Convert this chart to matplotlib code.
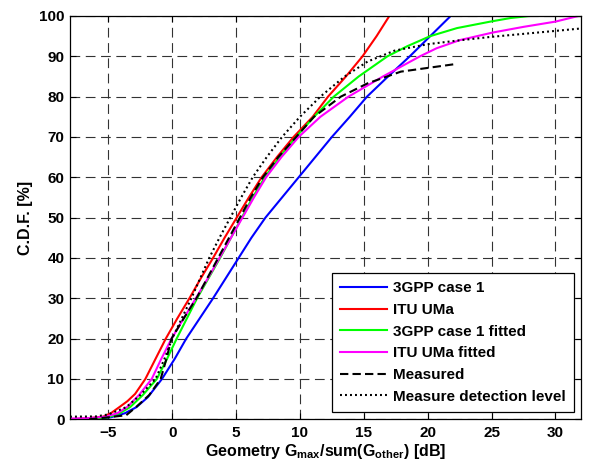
import matplotlib
matplotlib.use("Agg")
import matplotlib.pyplot as plt

plt.rcParams["font.family"] = ["Liberation Sans", "DejaVu Sans"]
plt.rcParams["font.weight"] = "bold"
plt.rcParams["mathtext.fontset"] = "custom"
plt.rcParams["mathtext.rm"] = "Liberation Sans:bold"
plt.rcParams["mathtext.bf"] = "Liberation Sans:bold"
plt.rcParams["mathtext.default"] = "bf"
plt.rcParams["lines.scale_dashes"] = False

# ---- CDF curves: geometry factor [dB] vs cumulative probability [%] ----
gpp_x = [-6.3, -4.8, -3.7, -2.8, -1.9, -0.8, 0.2, 1.1, 2.15, 3.2, 4.2, 5.2,
         6.2, 7.3, 8.6, 9.9, 11.2, 12.5, 13.9, 15.25, 16.9, 18.6, 20.2, 21.8]
gpp_y = [0, 0.5, 1.5, 3, 5.5, 10, 15, 20, 25, 30, 35, 40,
         45, 50, 55, 60, 65, 70, 75, 80, 85, 90, 95, 100]

itu_x = [-8.0, -6.5, -5.4, -4.8, -4.1, -3.5, -2.9, -2.1, -1.3, -0.5, 0.4, 1.35,
         2.25, 3.2, 4.1, 5.05, 6.0, 7.0, 8.2, 9.5, 11.0, 12.2, 13.6, 14.9,
         16.0, 17.0]
itu_y = [0, 0.3, 0.65, 1.5, 3.1, 4.5, 6.3, 10, 15, 20, 25, 30,
         35, 40, 45, 50, 55, 60, 65, 70, 75, 80, 85, 90,
         95, 100]

gpp_fit_x = [-6.5, -5.0, -4.1, -3.3, -2.3, -1.2, -0.4, 0.35, 1.15, 1.95, 2.85,
             3.75, 4.6, 5.45, 6.3, 7.25, 8.4, 9.7, 11.1, 12.65, 14.6, 16.85,
             18.4, 20.2, 22.3, 24.9, 26.5, 28.0]
gpp_fit_y = [0, 0.5, 1.5, 3, 6, 10, 15, 20, 25, 30, 35,
             40, 45, 50, 55, 60, 65, 70, 75, 80, 85, 90,
             92.5, 95, 97.0, 98.6, 99.5, 100]

itu_fit_x = [-8.0, -6.5, -5.2, -4.3, -3.5, -2.6, -1.6, -0.85, -0.05, 0.9, 1.85,
             2.8, 3.7, 4.6, 5.5, 6.4, 7.35, 8.55, 9.9, 11.6, 13.8, 16.5, 19.4,
             20.7, 22.5, 25.1, 27.5, 30.0, 31.8]
itu_fit_y = [0.2, 0.3, 0.65, 1.5, 3.1, 6, 10, 15, 20, 25, 30,
             35, 40, 45, 50, 55, 60, 65, 70, 75, 80, 85, 90,
             92, 94, 95.9, 97.3, 98.6, 100]

meas_x = [-6.5, -5.0, -3.6, -2.8, -1.8, -0.9, -0.45, -0.05, 0.9, 1.9, 2.75,
          3.6, 4.45, 5.3, 6.15, 7.1, 8.3, 9.7, 11.1, 13.2, 15.3, 17.9, 22.0]
meas_y = [0, 0.5, 1.0, 3.1, 6, 10, 15, 20, 25, 30, 35,
          40, 45, 50, 55, 60, 65, 70, 75, 80, 83.3, 86.2, 88]

det_x = [-8.0, -6.0, -5.0, -3.6, -2.5, -1.3, -0.6, 0.0, 0.75, 1.5, 2.2, 2.9,
         3.7, 4.55, 5.4, 6.3, 7.4, 8.6, 10.0, 11.6, 13.5, 15.3, 17.4, 20.0,
         22.6, 24.9, 30.0, 32.0]
det_y = [0.65, 0.7, 1.2, 3, 6, 10, 15, 20, 25, 30, 35, 40,
         45, 50, 55, 60, 65, 70, 75, 80, 85, 88.7, 91.4, 93.0,
         94.0, 94.8, 96.3, 96.9]

labels = ["3GPP case 1", "ITU UMa", "3GPP case 1 fitted", "ITU UMa fitted",
          "Measured", "Measure detection level"]

x_ticks = [-5, 0, 5, 10, 15, 20, 25, 30]
y_ticks = [0, 10, 20, 30, 40, 50, 60, 70, 80, 90, 100]

fig = plt.figure(figsize=(5.9, 4.63), dpi=100)
ax = fig.add_axes([0.1186, 0.0944, 0.8661, 0.8711])

lw = 1.5
ax.plot(gpp_x, gpp_y, color="#0000FF", lw=lw, label=labels[0])
ax.plot(itu_x, itu_y, color="#FF0000", lw=lw, label=labels[1])
ax.plot(gpp_fit_x, gpp_fit_y, color="#00FF00", lw=lw, label=labels[2])
ax.plot(itu_fit_x, itu_fit_y, color="#FF00FF", lw=lw, label=labels[3])
ax.plot(meas_x, meas_y, color="black", lw=lw, dashes=(6, 3), label=labels[4])
ax.plot(det_x, det_y, color="black", lw=lw, dashes=(1.4, 2.2), label=labels[5])

ax.set_xlim(-8, 32)
ax.set_ylim(0, 100)
ax.set_xticks(x_ticks)
ax.set_yticks(y_ticks)
ax.grid(True, color="#333333", lw=0.8, dashes=(7, 4))
ax.set_axisbelow(True)
ax.tick_params(direction="in", top=True, right=True, length=4, width=0.8,
               labelsize=11)
ax.tick_params(axis="x", pad=5)
ax.tick_params(axis="y", pad=4)
for s in ax.spines.values():
    s.set_linewidth(0.9)

ax.set_xlabel(r"Geometry G$_{max}$/sum(G$_{other}$) [dB]", fontsize=11.5,
              fontweight="bold", labelpad=1)
ax.set_ylabel("C.D.F. [%]", fontsize=11.5, fontweight="bold", labelpad=4)

leg = ax.legend(loc="lower right", bbox_to_anchor=(0.986, 0.018),
                borderaxespad=0, fancybox=False, framealpha=1,
                edgecolor="black", handlelength=3.05, handletextpad=0.4,
                labelspacing=0.5, borderpad=0.55,
                prop={"weight": "bold", "size": 11})
leg.get_frame().set_linewidth(0.9)

fig.savefig("out.png", dpi=100)
